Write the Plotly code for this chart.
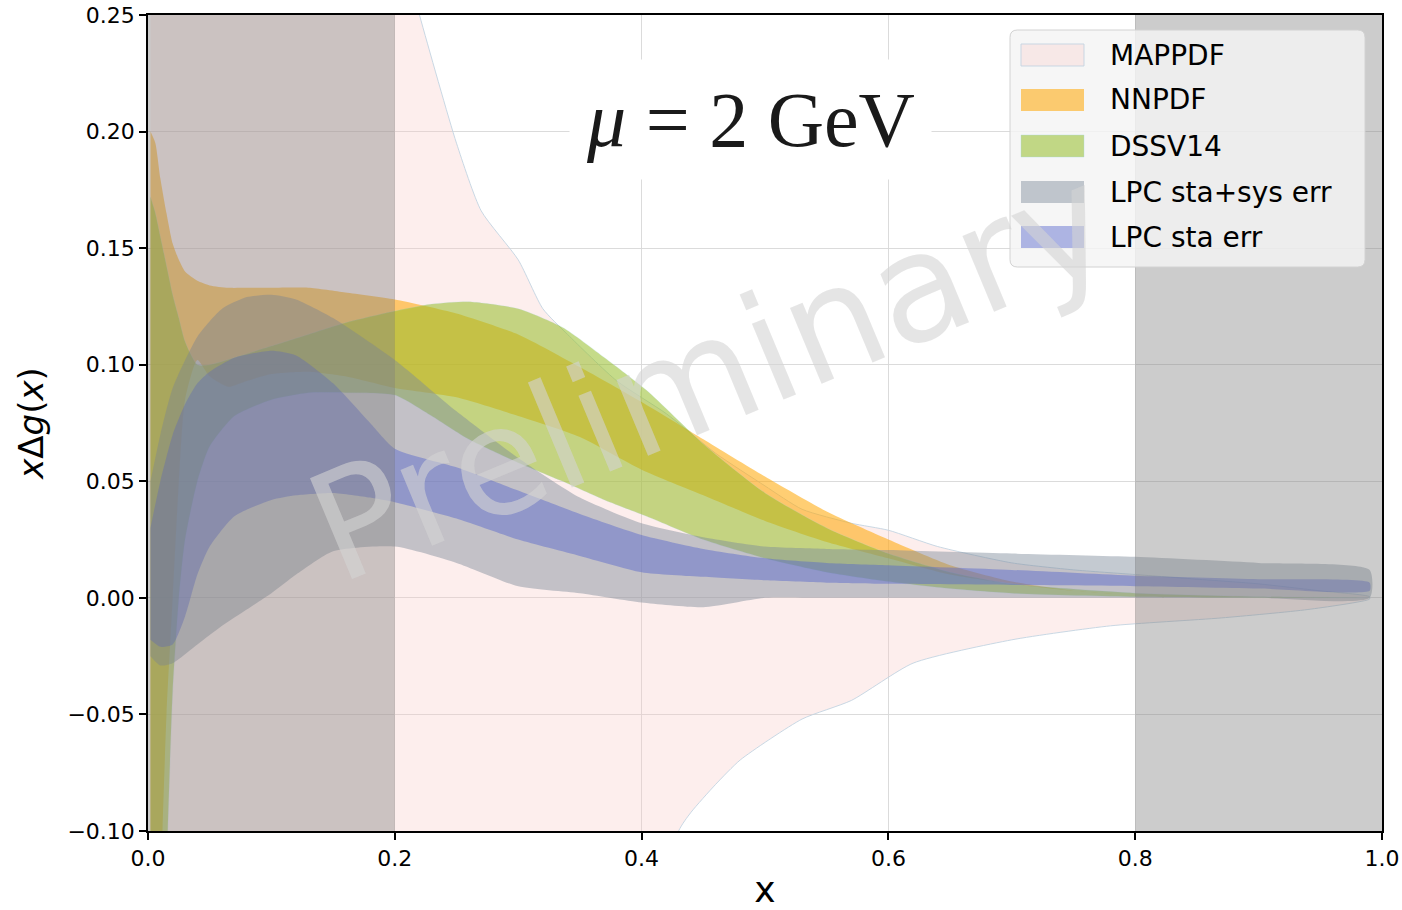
import plotly.graph_objects as go

# ---------------- data ----------------
map_x = [0.002, 0.1, 0.18, 0.22, 0.25, 0.27, 0.3, 0.32, 0.34, 0.38, 0.42, 0.46, 0.5, 0.53, 0.57, 0.6, 0.64, 0.7, 0.75, 0.8, 0.85, 0.9, 0.95, 0.99]
map_up = [0.6, 0.5, 0.33, 0.25, 0.195, 0.166, 0.145, 0.124, 0.113, 0.093, 0.079, 0.062, 0.048, 0.038, 0.032, 0.029, 0.022, 0.015, 0.012, 0.010, 0.008, 0.006, 0.003, 0.0005]
map_lo_x = [0.002, 0.2, 0.35, 0.43, 0.44, 0.46, 0.48, 0.53, 0.57, 0.62, 0.7, 0.78, 0.87, 0.94, 0.99]
map_lo = [-0.6, -0.45, -0.25, -0.1, -0.092, -0.08, -0.0695, -0.052, -0.044, -0.028, -0.018, -0.012, -0.0086, -0.005, -0.0005]

nn_x = [0.002, 0.006, 0.01, 0.015, 0.02, 0.025, 0.03, 0.04, 0.05, 0.065, 0.08, 0.1, 0.13, 0.16, 0.2, 0.25, 0.3, 0.35, 0.4, 0.45, 0.5, 0.55, 0.6, 0.65, 0.7, 0.75, 0.8, 0.9, 0.99]
nn_up = [0.2, 0.195, 0.18, 0.165, 0.152, 0.145, 0.14, 0.136, 0.134, 0.133, 0.133, 0.133, 0.133, 0.131, 0.128, 0.122, 0.113, 0.099, 0.084, 0.068, 0.052, 0.037, 0.025, 0.014, 0.007, 0.003, 0.001, 0.0002, 0.0]
nn_lo = [-0.35, -0.22, -0.13, -0.05, 0.0, 0.05, 0.085, 0.102, 0.095, 0.0905, 0.093, 0.096, 0.097, 0.095, 0.09, 0.086, 0.078, 0.069, 0.055, 0.044, 0.033, 0.024, 0.017, 0.010, 0.006, 0.003, 0.001, 0.0002, 0.0]

ds_x = [0.002, 0.006, 0.01, 0.016, 0.02, 0.025, 0.03, 0.04, 0.05, 0.07, 0.1, 0.13, 0.16, 0.2, 0.23, 0.26, 0.3, 0.336, 0.37, 0.404, 0.45, 0.5, 0.55, 0.6, 0.65, 0.7, 0.8, 0.9, 0.99]
ds_up = [0.172, 0.165, 0.155, 0.14, 0.13, 0.12, 0.11, 0.1, 0.1, 0.103, 0.108, 0.113, 0.118, 0.123, 0.126, 0.127, 0.124, 0.116, 0.103, 0.089, 0.066, 0.045, 0.030, 0.019, 0.011, 0.006, 0.002, 0.0005, 0.0]
ds_lo = [-0.3, -0.25, -0.2, -0.1, -0.04, 0.0, 0.025, 0.05, 0.065, 0.078, 0.085, 0.088, 0.088, 0.087, 0.078, 0.068, 0.058, 0.05, 0.042, 0.035, 0.025, 0.017, 0.011, 0.007, 0.004, 0.002, 0.0005, 0.0001, 0.0]

sys_x = [0.002, 0.01, 0.02, 0.04, 0.06, 0.08, 0.1, 0.12, 0.15, 0.2, 0.25, 0.3, 0.35, 0.4, 0.45, 0.5, 0.55, 0.6, 0.7, 0.8, 0.9, 0.99]
sys_up = [0.05, 0.07, 0.09, 0.112, 0.124, 0.129, 0.13, 0.128, 0.12, 0.102, 0.08, 0.06, 0.043, 0.032, 0.026, 0.022, 0.021, 0.0205, 0.019, 0.0176, 0.015, 0.012]
sys_lo = [-0.025, -0.029, -0.028, -0.02, -0.012, -0.005, 0.002, 0.01, 0.02, 0.022, 0.015, 0.005, 0.002, -0.002, -0.004, 0.0, 0.0, 0.0, 0.0, 0.0, 0.0, 0.0]

sta_x = [0.002, 0.01, 0.02, 0.03, 0.04, 0.05, 0.07, 0.1, 0.12, 0.15, 0.18, 0.2, 0.25, 0.3, 0.35, 0.4, 0.45, 0.5, 0.55, 0.6, 0.7, 0.8, 0.9, 0.99]
sta_up = [0.03, 0.05, 0.07, 0.083, 0.092, 0.097, 0.103, 0.106, 0.104, 0.092, 0.075, 0.064, 0.056, 0.046, 0.036, 0.027, 0.021, 0.017, 0.015, 0.014, 0.012, 0.0095, 0.008, 0.0065]
sta_lo = [-0.018, -0.021, -0.02, -0.008, 0.01, 0.022, 0.035, 0.042, 0.044, 0.045, 0.043, 0.041, 0.034, 0.025, 0.018, 0.011, 0.009, 0.0075, 0.0065, 0.006, 0.0055, 0.005, 0.004, 0.003]

legend_names = ["MAPPDF", "NNPDF", "DSSV14", "LPC sta+sys err", "LPC sta err"]
fill_colors = ["rgba(250,200,195,0.30)", "rgba(255,165,0,0.55)", "rgba(150,190,40,0.55)",
               "rgba(125,138,152,0.45)", "rgba(85,100,205,0.45)"]
edge_colors = ["rgba(195,212,225,0.9)", "rgba(0,0,0,0)", "rgba(170,215,225,0.35)",
               "rgba(0,0,0,0)", "rgba(0,0,0,0)"]
edge_widths = [1.0, 0, 0.6, 0, 0]

bands = [
    (map_x, map_up, map_lo_x, map_lo),
    (nn_x, nn_up, nn_x, nn_lo),
    (ds_x, ds_up, ds_x, ds_lo),
    (sys_x, sys_up, sys_x, sys_lo),
    (sta_x, sta_up, sta_x, sta_lo),
]

fig = go.Figure()
for i, (xu, yu, xl, yl) in enumerate(bands):
    fig.add_trace(go.Scatter(
        x=list(xu) + list(xl)[::-1],
        y=list(yu) + list(yl)[::-1],
        fill="toself", fillcolor=fill_colors[i],
        line=dict(color=edge_colors[i], width=edge_widths[i], shape="spline", smoothing=0.6),
        mode="lines", name=legend_names[i], hoverinfo="skip", showlegend=False,
    ))

# excluded x regions
for x0, x1 in [(0.0, 0.2), (0.8, 1.0)]:
    fig.add_shape(type="rect", xref="x", yref="paper", x0=x0, x1=x1, y0=0, y1=1,
                  fillcolor="rgba(128,128,128,0.4)", line=dict(width=0), layer="above")

# ---- legend drawn in paper coordinates (px -> paper) ----
PL, PR, PT, PB = 148, 1382, 15, 831
def px2x(p):
    return (p - PL) / (PR - PL)
def py2y(p):
    return (PB - p) / (PB - PT)

bx0, bx1, by0, by1 = px2x(1010), px2x(1365), py2y(267), py2y(30)
r = 0.006
ry = r * (PR - PL) / (PB - PT)
path = (f"M {bx0+r},{by0} L {bx1-r},{by0} Q {bx1},{by0} {bx1},{by0+ry} "
        f"L {bx1},{by1-ry} Q {bx1},{by1} {bx1-r},{by1} L {bx0+r},{by1} "
        f"Q {bx0},{by1} {bx0},{by1-ry} L {bx0},{by0+ry} Q {bx0},{by0} {bx0+r},{by0} Z")
fig.add_shape(type="path", xref="paper", yref="paper", path=path,
              fillcolor="rgba(244,244,244,0.82)", line=dict(color="rgba(210,210,210,1)", width=1),
              layer="above")
legend_rows = [55, 100, 146, 192, 237]
for i, name in enumerate(legend_names):
    cy = legend_rows[i]
    fig.add_shape(type="rect", xref="paper", yref="paper",
                  x0=px2x(1021), x1=px2x(1084), y0=py2y(cy + 11), y1=py2y(cy - 11),
                  fillcolor=fill_colors[i],
                  line=dict(color=edge_colors[i] if edge_widths[i] else "rgba(0,0,0,0)", width=1),
                  layer="above")
    fig.add_annotation(x=px2x(1108), y=py2y(cy), xref="paper", yref="paper",
                       xanchor="left", yanchor="middle", text=name, showarrow=False,
                       font=dict(family="DejaVu Sans", size=28, color="black"))

# watermark
fig.add_annotation(x=0.455, y=0.096, xref="x", yref="y", text="Preliminary",
                   showarrow=False, textangle=-22.6,
                   font=dict(family="DejaVu Sans", size=150, color="rgba(212,212,212,0.6)"))

# title inside the plot
fig.add_annotation(x=px2x(750), y=0.205, xref="paper", yref="y",
                   text="<i>μ</i>&nbsp;=&nbsp;2&nbsp;GeV", showarrow=False,
                   font=dict(family="Liberation Serif", size=78, color="#1a1a1a"),
                   bgcolor="white", borderpad=16)

axis_common = dict(showline=True, linecolor="black", linewidth=1.5, mirror=True,
                   ticks="outside", ticklen=7, tickwidth=1.5, tickcolor="black",
                   showgrid=True, gridcolor="rgba(215,215,215,0.9)", gridwidth=1,
                   zeroline=False, automargin=False,
                   tickfont=dict(family="DejaVu Sans", size=22, color="black"))

fig.update_xaxes(range=[0, 1], dtick=0.2, tick0=0, tickformat=".1f",
                 title=dict(text="x", font=dict(family="DejaVu Sans", size=36, color="black"), standoff=12),
                 **axis_common)
fig.update_yaxes(range=[-0.10, 0.25], dtick=0.05, tick0=0, tickformat=".2f",
                 title=dict(text="<i>x</i>Δ<i>g</i>(<i>x</i>)", font=dict(family="DejaVu Sans", size=34, color="black"), standoff=14),
                 **axis_common)

fig.update_layout(
    width=1402, height=910, autosize=False,
    margin=dict(l=148, r=20, t=15, b=79),
    plot_bgcolor="white", paper_bgcolor="white",
    showlegend=False,
)

fig.write_html("out.html", config={"displayModeBar": False},
               post_script="document.body.style.margin='0';document.body.style.overflow='hidden';")
